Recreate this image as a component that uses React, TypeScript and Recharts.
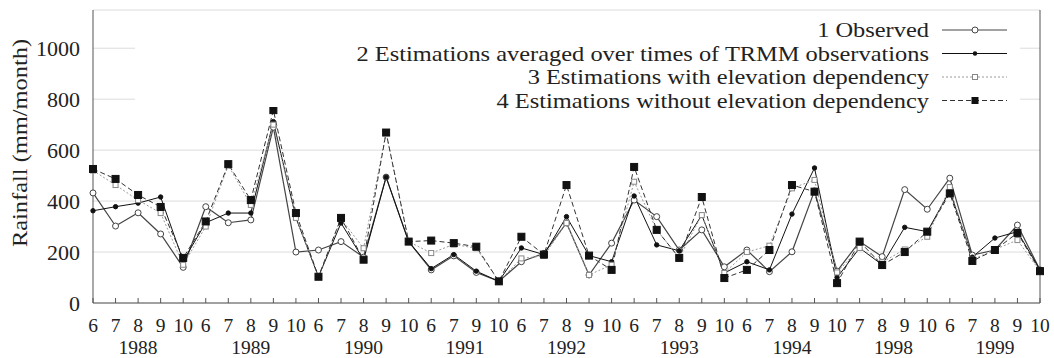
import { CartesianGrid, Legend, Line, LineChart, XAxis, YAxis } from "recharts";

const months = [
  "6", "7", "8", "9", "10",
  "6", "7", "8", "9", "10",
  "6", "7", "8", "9", "10",
  "6", "7", "9", "10",
  "6", "7", "8", "9", "10",
  "6", "7", "8", "9", "10",
  "6", "7", "8", "9", "10",
  "7", "8", "9", "10",
  "6", "7", "8", "9", "10",
];

const years = [
  "1988", "1988", "1988", "1988", "1988",
  "1989", "1989", "1989", "1989", "1989",
  "1990", "1990", "1990", "1990", "1990",
  "1991", "1991", "1991", "1991",
  "1992", "1992", "1992", "1992", "1992",
  "1993", "1993", "1993", "1993", "1993",
  "1994", "1994", "1994", "1994", "1994",
  "1998", "1998", "1998", "1998",
  "1999", "1999", "1999", "1999", "1999",
];

const observed = [
  432, 302, 354, 271, 140, 378, 315, 326, 690, 200, 208, 241, 180, 494, 241,
  130, 185, 120, 85, 162, 195, 314, 110, 235, 404, 339, 208, 287, 142, 208,
  123, 201, 440, 125, 241, 182, 445, 368, 490, 188, 208, 306, 130,
];

const averaged = [
  362, 378, 392, 416, 165, 315, 353, 353, 712, 334, 103, 314, 170, 494, 241,
  135, 190, 125, 85, 216, 190, 339, 186, 162, 420, 228, 205, 345, 118, 162,
  130, 349, 530, 100, 216, 150, 297, 280, 440, 180, 255, 280, 130,
];

const withElevation = [
  520, 463, 404, 353, 150, 300, 540, 385, 700, 334, 103, 330, 215, 669, 241,
  196, 230, 215, 85, 175, 185, 314, 110, 150, 476, 287, 177, 345, 118, 200,
  225, 450, 483, 120, 216, 160, 210, 260, 455, 170, 210, 247, 125,
];

const withoutElevation = [
  526, 487, 424, 377, 177, 320, 545, 404, 757, 353, 103, 334, 170, 669, 241,
  245, 235, 221, 85, 260, 190, 463, 186, 130, 534, 287, 177, 416, 98, 130,
  208, 463, 437, 78, 241, 149, 200, 280, 430, 165, 208, 275, 125,
];

const yTicks = [0, 200, 400, 600, 800, 1000];

const legendLabels = [
  "1 Observed",
  "2 Estimations averaged over times of TRMM observations",
  "3 Estimations with elevation dependency",
  "4 Estimations without elevation dependency",
];

const data = months.map((m, i) => ({
  key: `${years[i]}-${m}`,
  obs: observed[i],
  avg: averaged[i],
  elev: withElevation[i],
  noElev: withoutElevation[i],
}));

const FONT = "'Liberation Serif', 'Times New Roman', serif";
const INK = "#222";
const FRAME = "#555";
const PLOT_W = 947;
const STEP = PLOT_W / (months.length - 1);
// the source figure's lettering is a little wider than Times
const STRETCH = 1.11;

const textStyle = { fontFamily: FONT, fontSize: 22, fill: INK };
const xTickStyle = { fontFamily: FONT, fontSize: 19.5, fill: INK };

function BottomTick(props: any) {
  const { x, y, index } = props;
  const first = index === 0 || years[index] !== years[index - 1];
  let yearLabel = null;
  if (first) {
    const len = years.filter((yy) => yy === years[index]).length;
    yearLabel = (
      <text x={x + ((len - 1) / 2) * STEP} y={y + 50.6} textAnchor="middle" style={xTickStyle}>
        {years[index]}
      </text>
    );
  }
  return (
    <g>
      <line x1={x} x2={x} y1={y} y2={y - 5} stroke={FRAME} />
      <text x={x} y={y + 29} textAnchor="middle" style={xTickStyle}>
        {months[index]}
      </text>
      {yearLabel}
    </g>
  );
}

function TopTick(props: any) {
  const { x, y } = props;
  return <line x1={x} x2={x} y1={y} y2={y + 5} stroke={FRAME} />;
}

function YLabel() {
  return (
    <g transform={`translate(22 143) rotate(-90) scale(${STRETCH} 1)`}>
      <text x={0} y={0} textAnchor="middle" dominantBaseline="middle" style={textStyle}>
        Rainfall (mm/month)
      </text>
    </g>
  );
}

const circleDot = (fill: string, stroke: string, r: number) => (p: any) => (
  <circle key={`c-${p.index}-${fill}`} cx={p.cx} cy={p.cy} r={r} fill={fill} stroke={stroke} strokeWidth={1} />
);

const squareDot = (fill: string, stroke: string, s: number) => (p: any) => (
  <rect
    key={`s-${p.index}-${fill}`}
    x={p.cx - s / 2}
    y={p.cy - s / 2}
    width={s}
    height={s}
    fill={fill}
    stroke={stroke}
    strokeWidth={1}
  />
);

function KeyBox() {
  const W = 885;
  const row = (i: number) => 15 + i * 23.5;
  return (
    <svg width={W} height={92} style={{ overflow: "visible", display: "block" }}>
      <rect width={W} height={92} fill="#fff" />
      {legendLabels.map((label, i) => (
        <g key={label} transform={`translate(794 ${row(i) + 7}) scale(${STRETCH} 1)`}>
          <text x={0} y={0} textAnchor="end" style={textStyle}>
            {label}
          </text>
        </g>
      ))}
      <line x1={807} x2={872} y1={row(0)} y2={row(0)} stroke="#444" />
      <circle cx={840} cy={row(0)} r={3} fill="#fff" stroke="#444" />
      <line x1={807} x2={872} y1={row(1)} y2={row(1)} stroke="#111" />
      <circle cx={840} cy={row(1)} r={2.2} fill="#111" />
      <line x1={807} x2={872} y1={row(2)} y2={row(2)} stroke="#999" strokeDasharray="2 2" />
      <rect x={837.5} y={row(2) - 2.5} width={5} height={5} fill="#fff" stroke="#888" />
      <line x1={807} x2={872} y1={row(3)} y2={row(3)} stroke="#333" strokeDasharray="5 3" />
      <rect x={836.5} y={row(3) - 3.5} width={7} height={7} fill="#111" />
    </svg>
  );
}

export default function App() {
  return (
    <div style={{ position: "absolute", left: 0, top: 0, width: 1054, height: 358, background: "#fff" }}>
      <LineChart width={1054} height={358} data={data} margin={{ top: 10, right: 0, bottom: 0, left: 0 }}>
        <CartesianGrid vertical={false} stroke="#dcdcdc" />
        <XAxis
          dataKey="key"
          height={55}
          interval={0}
          tickSize={0}
          tickMargin={0}
          tickLine={false}
          axisLine={{ stroke: FRAME }}
          tick={<BottomTick />}
        />
        <XAxis
          xAxisId="top"
          orientation="top"
          dataKey="key"
          height={0}
          interval={0}
          tickSize={0}
          tickMargin={0}
          tickLine={false}
          axisLine={{ stroke: FRAME }}
          tick={<TopTick />}
        />
        <YAxis
          width={93}
          domain={[0, 1150]}
          ticks={yTicks}
          tickSize={0}
          tickMargin={13}
          tickLine={false}
          axisLine={{ stroke: FRAME }}
          tick={textStyle}
          label={<YLabel />}
        />
        <YAxis
          yAxisId="right"
          orientation="right"
          width={14}
          domain={[0, 1150]}
          tick={false}
          tickLine={false}
          axisLine={{ stroke: FRAME }}
        />
        <Legend
          layout="vertical"
          align="center"
          verticalAlign="middle"
          wrapperStyle={{ left: 135, top: 15, width: 885, height: 92 }}
          content={<KeyBox />}
        />
        <Line
          type="linear"
          dataKey="obs"
          stroke="#444"
          strokeWidth={1.2}
          dot={circleDot("#fff", "#444", 3)}
          isAnimationActive={false}
        />
        <Line
          type="linear"
          dataKey="avg"
          stroke="#111"
          strokeWidth={1}
          dot={circleDot("#111", "#111", 2.2)}
          isAnimationActive={false}
        />
        <Line
          type="linear"
          dataKey="elev"
          stroke="#999"
          strokeWidth={1}
          strokeDasharray="2 2"
          dot={squareDot("#fff", "#888", 5)}
          isAnimationActive={false}
        />
        <Line
          type="linear"
          dataKey="noElev"
          stroke="#333"
          strokeWidth={1}
          strokeDasharray="5 3"
          dot={squareDot("#111", "#111", 7)}
          isAnimationActive={false}
        />
      </LineChart>
    </div>
  );
}
